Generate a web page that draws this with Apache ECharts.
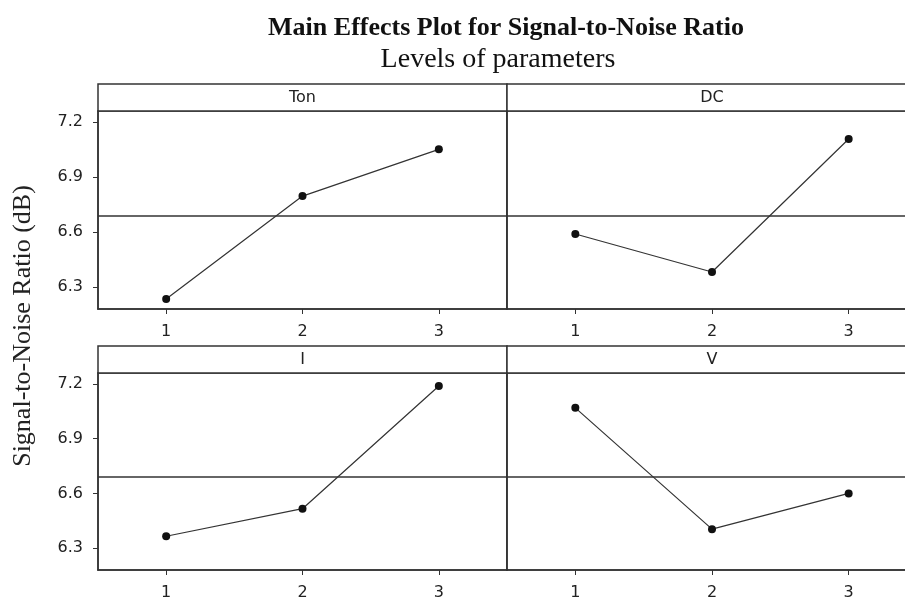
<!DOCTYPE html>
<html>
<head>
<meta charset="utf-8">
<script src="https://cdn.jsdelivr.net/npm/echarts@6/dist/echarts.min.js"></script>
<style>
  html, body { margin: 0; padding: 0; background: #fff; overflow: hidden; }
  #chart { width: 905px; height: 600px; }
</style>
</head>
<body>
<div id="chart"></div>
<script>
// levels of each parameter
const levels = ['1', '2', '3'];
// mean S/N ratio (dB) per level
const tonSN = [6.235, 6.796, 7.051];
const dcSN = [6.589, 6.382, 7.107];
const iSN = [6.365, 6.516, 7.189];
const vSN = [7.069, 6.404, 6.600];
const grandMean = 6.693;
const yTicks = [6.3, 6.6, 6.9, 7.2];
const panelNames = ['Ton', 'DC', 'I', 'V'];

const frame = '#333';
const sans = 'DejaVu Sans';
const serif = 'Liberation Serif';

// panel boxes; right-hand panels run past the canvas edge (cut off like the source)
const panels = [
  { left: 98, top: 111, width: 409, height: 198 },
  { left: 507, top: 111, right: -12, height: 198 },
  { left: 98, top: 373, width: 409, height: 197 },
  { left: 507, top: 373, right: -12, height: 197 },
];
const headerH = 27;
const seriesData = [tonSN, dcSN, iSN, vSN];

const myChart = echarts.init(document.getElementById('chart'));

const graphic = [
  {
    // y axis name shared by all panels
    type: 'text',
    x: 23,
    y: 326,
    rotation: Math.PI / 2,
    style: {
      text: 'Signal-to-Noise Ratio (dB)',
      fill: '#222',
      font: `26px "${serif}"`,
      textAlign: 'center',
      textVerticalAlign: 'middle',
    },
  },
];
panels.forEach((p, i) => {
  const w = p.width || 420;
  graphic.push({
    type: 'rect',
    shape: { x: p.left, y: p.top - headerH, width: w, height: headerH },
    style: { fill: '#fff', stroke: frame, lineWidth: 1.5 },
  });
  graphic.push({
    type: 'text',
    x: i % 2 === 1 ? 712 : p.left + w / 2,
    y: p.top - headerH / 2,
    style: {
      text: panelNames[i],
      fill: '#222',
      font: `16px "${sans}"`,
      textAlign: 'center',
      textVerticalAlign: 'middle',
    },
  });
});

const option = {
  backgroundColor: '#fff',
  animation: false,
  title: [
    {
      text: 'Main Effects Plot for Signal-to-Noise Ratio',
      left: 501,
      top: 10,
      textAlign: 'center',
      textStyle: { fontFamily: serif, fontSize: 26, fontWeight: 'bold', color: '#111' },
    },
    {
      text: 'Levels of parameters',
      left: 493,
      top: 41,
      textAlign: 'center',
      textStyle: { fontFamily: serif, fontSize: 28, fontWeight: 'normal', color: '#111' },
    },
  ],
  graphic,
  grid: panels.map(p => Object.assign({
    outerBoundsMode: 'none',
    show: true,
    borderColor: frame,
    borderWidth: 1.5,
    backgroundColor: '#fff',
  }, p)),
  xAxis: panels.map((p, i) => ({
    type: 'category',
    gridIndex: i,
    data: levels,
    boundaryGap: true,
    axisLine: { show: true, lineStyle: { color: frame, width: 1.5 } },
    axisTick: { show: true, alignWithLabel: true, length: 5, lineStyle: { color: frame } },
    axisLabel: { color: '#222', fontFamily: sans, fontSize: 16, margin: 15 },
    splitLine: { show: false },
  })),
  yAxis: panels.map((p, i) => ({
    type: 'value',
    gridIndex: i,
    min: 6.18,
    max: 7.26,
    axisLine: { show: true, lineStyle: { color: frame, width: 1.5 } },
    axisTick: {
      show: i % 2 === 0,
      length: 5,
      customValues: yTicks,
      lineStyle: { color: frame },
    },
    axisLabel: {
      show: i % 2 === 0,
      customValues: yTicks,
      color: '#222',
      fontFamily: sans,
      fontSize: 16,
      margin: 15,
      formatter: v => v.toFixed(1),
    },
    splitLine: { show: false },
  })),
  series: seriesData.map((d, i) => ({
    name: panelNames[i],
    type: 'line',
    xAxisIndex: i,
    yAxisIndex: i,
    data: d,
    symbol: 'circle',
    symbolSize: 8,
    itemStyle: { color: '#111' },
    lineStyle: { color: '#333', width: 1.2 },
    markLine: {
      silent: true,
      symbol: 'none',
      label: { show: false },
      lineStyle: { color: frame, width: 1.5, type: 'solid' },
      data: [{ yAxis: grandMean }],
    },
  })),
};

myChart.setOption(option);
</script>
</body>
</html>
